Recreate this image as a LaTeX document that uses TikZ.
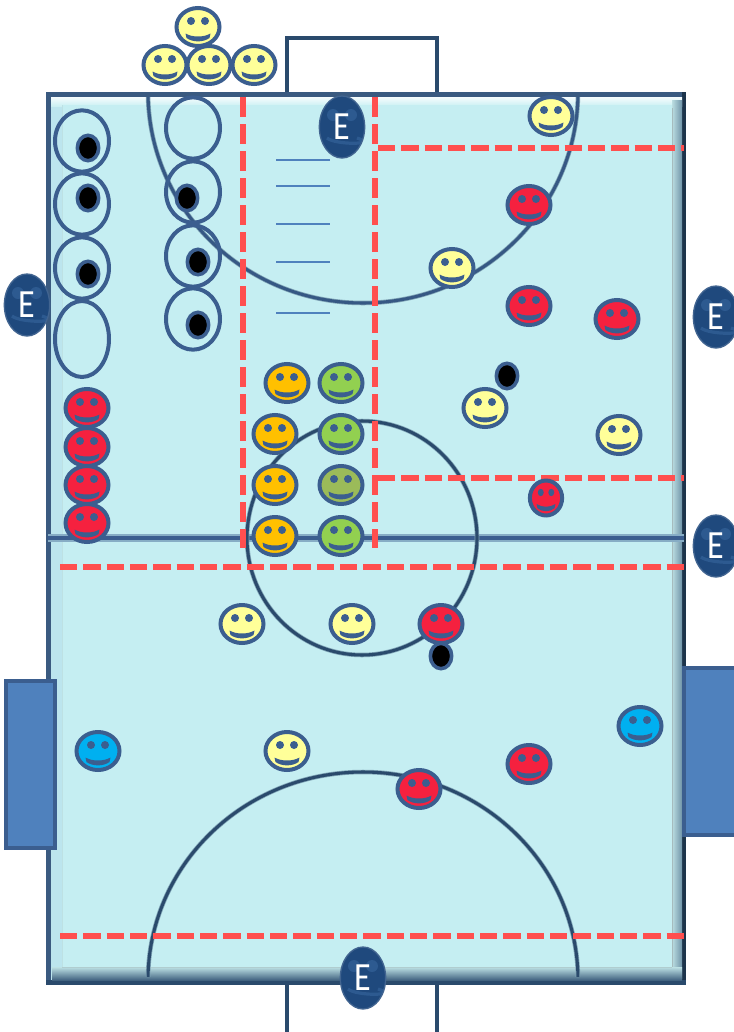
\documentclass[tikz,border=0pt]{standalone}
\usepackage{fontspec}
\setmainfont{Carlito}
\usetikzlibrary{shapes.geometric}
\definecolor{rim}{HTML}{3B5E8F}
\definecolor{floorc}{HTML}{C5EEF2}
\definecolor{dashc}{HTML}{FF4F4F}
\definecolor{goalc}{HTML}{4F81BD}
\definecolor{yel}{HTML}{FFFF99}
\definecolor{redf}{HTML}{F5213F}
\definecolor{bluef}{HTML}{00B0F0}
\definecolor{orf}{HTML}{FFC000}
\definecolor{grf}{HTML}{92D050}
\definecolor{olf}{HTML}{9BBB59}
\definecolor{edark}{HTML}{1F497D}
\definecolor{arcc}{HTML}{2A4A6C}
\definecolor{framec}{HTML}{3A5A80}
\tikzset{
  x=0.75pt,y=-0.75pt,
  faceshape/.style={ellipse,draw=rim,line width=3pt,inner sep=0pt,minimum width=32.25pt,minimum height=28.5pt},
  ring/.style={ellipse,draw=rim,line width=3pt,inner sep=0pt,minimum width=40.5pt},
  ball/.style={ellipse,draw=rim,fill=black,line width=2.7pt,inner sep=0pt,minimum width=16pt,minimum height=19pt},
  redline/.style={draw=dashc,line width=4.6pt,dash pattern=on 15pt off 5.25pt},
  redlineh/.style={draw=dashc,line width=4.8pt,dash pattern=on 13pt off 4.5pt},
  tick/.style={draw=goalc,line width=1.3pt},
  fieldarc/.style={draw=arcc,line width=2.3pt},
  arcglow/.style={draw=arcc!45!floorc,line width=3.4pt},
  goalbox/.style={draw=arcc,fill=white,line width=3pt},
  sidegoal/.style={draw=rim,fill=goalc,line width=3pt},
  enode/.style={ellipse,fill=edark,draw=edark!85!white,line width=1pt,text=white,inner sep=0pt,minimum width=34pt,minimum height=46.5pt,font=\fontsize{30}{30}\selectfont,
    path picture={
      \fill[edark!70!goalc] (path picture bounding box.center) ++(-9,-12) circle[radius=6];
      \fill[edark!70!goalc] (path picture bounding box.center) ++(9,-12) circle[radius=6];
      \draw[edark!70!goalc,line width=2.4pt] (path picture bounding box.center) ++(-15,11) .. controls +(8,7) and +(22,7) .. +(30,0);
    }},
}
\newcommand{\smiley}[5][scale=1]{%
  \begin{scope}[shift={(#3,#4)},#1,transform shape]
    \node[faceshape,fill=#5] (#2) at (0,0) {};
    \fill[rim] (-7,-6) circle[radius=4] (7,-6) circle[radius=4];
    \fill[rim] (-12.5,6.5) .. controls (-6,10.5) and (6,10.5) .. (12.5,6.5)
       -- (11.5,11) .. controls (5,15.5) and (-5,15.5) .. (-11.5,11) -- cycle;
  \end{scope}}
\newcommand{\bigE}{\scalebox{0.85}[1]{E}}
\begin{document}
\begin{tikzpicture}
\clip (0,0) rectangle (734,1032);
\fill[white] (0,0) rectangle (734,1032);
% goals
\draw[goalbox] (287,38) rectangle (437,96);
\draw[goalbox] (287,976) rectangle (437,1045);
% field frame
\fill[framec] (46,92) rectangle (686,985);
\fill[arcc!70!black] (682,92) rectangle (686,985);
\fill[arcc] (46,980) rectangle (686,985);
\fill[floorc!92!goalc] (51,97) rectangle (62,980);
\shade[top color=white!85!floorc,bottom color=floorc!90!white] (51,97) rectangle (682,106);
\shade[left color=floorc!85!gray,right color=arcc!55!floorc] (672,100) rectangle (682,978);
\shade[top color=floorc!88!gray,bottom color=arcc!85!floorc] (52,967) rectangle (682,980);
\fill[floorc] (62,105) rectangle (672,967);
\draw[floorc!88!gray,line width=.7pt] (62,105) -- (62,967);
\draw[floorc!70!gray,line width=.7pt] (62,967) -- (672,967);
\draw[floorc!55!gray,line width=.7pt] (672,967) -- (672,108);
% mid line
\draw[rim!45!floorc,line width=6pt] (48,538) -- (684,538);
\draw[rim,line width=3.2pt] (48,538) -- (684,538);
% markings
\begin{scope}
  \clip (140,97) rectangle (590,320);
  \draw[arcglow] (363,92) ellipse[x radius=215,y radius=211];
  \draw[fieldarc,draw=rim!70!arcc] (363,92) ellipse[x radius=215,y radius=211];
\end{scope}
\draw[arcglow] (362,538) ellipse[x radius=115,y radius=117];
\draw[fieldarc] (362,538) ellipse[x radius=115,y radius=117];
\begin{scope}
  \clip (140,760) rectangle (590,976);
  \draw[arcglow] (363,980) ellipse[x radius=215,y radius=208];
  \draw[fieldarc] (363,980) ellipse[x radius=215,y radius=208];
\end{scope}
% ticks
\foreach \y in {160,186,224,262,313} \draw[tick] (276,\y) -- (330,\y);
% red dashed lines
\draw[redline] (243,97) -- (243,548);
\draw[redline] (375,97) -- (375,548);
\draw[redlineh] (378,148) -- (684,148);
\draw[redlineh] (378,478) -- (684,478);
\draw[redlineh] (60,567) -- (684,567);
\draw[redlineh] (60,936) -- (684,936);
% side goals
\draw[sidegoal] (6,681) rectangle (55,848);
\draw[sidegoal] (684,668) rectangle (745,835);
% rings
\node[ring,minimum height=46pt] (r1) at (82,141) {};
\node[ring,minimum height=46pt] (r2) at (82,204) {};
\node[ring,minimum height=46pt] (r3) at (82,268) {};
\node[ring,minimum height=57pt] (r4) at (82,339) {};
\node[ring,minimum height=46pt] (r5) at (193,128) {};
\node[ring,minimum height=46pt] (r6) at (193,192) {};
\node[ring,minimum height=46pt] (r7) at (193,256) {};
\node[ring,minimum height=46pt] (r8) at (193,319) {};
% balls
\node[ball] (b1) at (88,148) {};
\node[ball] (b2) at (88,198) {};
\node[ball] (b3) at (88,274) {};
\node[ball] (b4) at (187,198) {};
\node[ball] (b5) at (198,262) {};
\node[ball] (b6) at (198,325) {};
\node[ball] (b7) at (507,376) {};
\node[ball] (b8) at (441,656) {};
% yellow
\smiley{y1}{198}{27}{yel}
\smiley{y2}{165}{65}{yel}
\smiley{y3}{209}{65}{yel}
\smiley{y4}{254}{65}{yel}
\smiley{y5}{551}{116}{yel}
\smiley{y6}{452}{268}{yel}
\smiley{y7}{485}{408}{yel}
\smiley{y8}{619}{435}{yel}
\smiley{y9}{242}{624}{yel}
\smiley{y10}{352}{624}{yel}
\smiley{y11}{287}{751}{yel}
% red
\smiley{d1}{529}{205}{redf}
\smiley{d2}{529}{306}{redf}
\smiley{d3}{617}{319}{redf}
\smiley{d4}{87}{408}{redf}
\smiley{d5}{87}{447}{redf}
\smiley{d6}{87}{485}{redf}
\smiley{d7}{87}{523}{redf}
\smiley{d8}{441}{624}{redf}
\smiley{d9}{529}{764}{redf}
\smiley{d10}{419}{789}{redf}
\smiley[xscale=0.75,yscale=0.92]{d11}{546}{498}{redf}
% blue
\smiley{u1}{640}{726}{bluef}
\smiley{u2}{98}{751}{bluef}
% orange and green
\smiley{o1}{287}{383}{orf}
\smiley{o2}{275}{434}{orf}
\smiley{o3}{275}{485}{orf}
\smiley{o4}{275}{536}{orf}
\smiley{g1}{341}{383}{grf}
\smiley{g2}{341}{434}{grf}
\smiley{g3}{341}{485}{olf}
\smiley{g4}{341}{536}{grf}
% E
\node[enode] (e1) at (27,305) {\bigE};
\node[enode] (e2) at (716,317) {\bigE};
\node[enode] (e3) at (716,546) {\bigE};
\node[enode] (e4) at (342,127) {\bigE};
\node[enode] (e5) at (363,978) {\bigE};
\end{tikzpicture}
\end{document}
